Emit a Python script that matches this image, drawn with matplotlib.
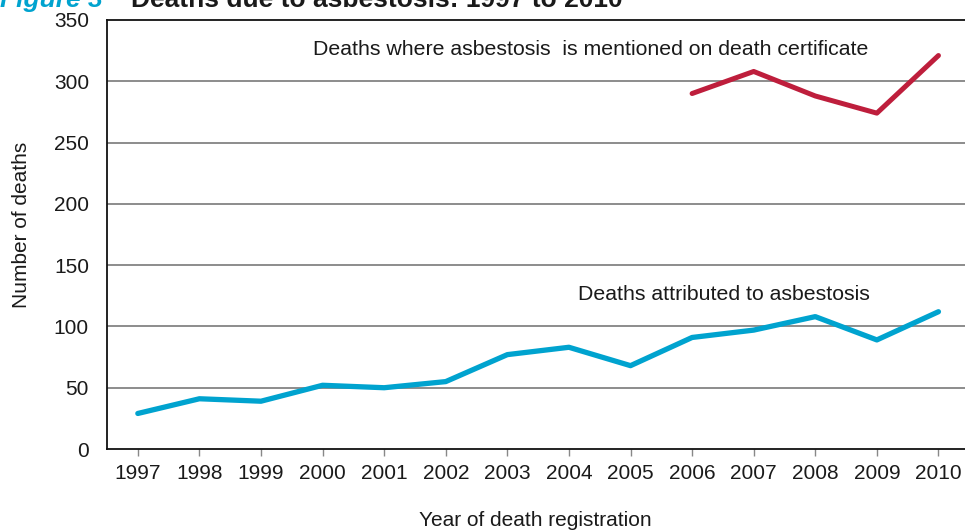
import matplotlib
matplotlib.use("Agg")
import matplotlib.pyplot as plt

years = [1997, 1998, 1999, 2000, 2001, 2002, 2003, 2004, 2005, 2006, 2007, 2008, 2009, 2010]
attributed = [29, 41, 39, 52, 50, 55, 77, 83, 68, 91, 97, 108, 89, 112]

years_mentioned = [2006, 2007, 2008, 2009, 2010]
mentioned = [290, 308, 288, 274, 321]

yticks = [0, 50, 100, 150, 200, 250, 300, 350]

plt.rcParams['font.family'] = ['Liberation Sans', 'DejaVu Sans']

fig = plt.figure(figsize=(9.65, 5.30), dpi=100)
ax = fig.add_axes([0.1109, 0.1528, 0.8935, 0.8095])

for v in yticks[1:-1]:
    ax.axhline(v, color='#6e6e6e', lw=1.1, zorder=1)

ax.plot(years, attributed, color='#00a3cf', lw=3.8, solid_capstyle='round', zorder=3)
ax.plot(years_mentioned, mentioned, color='#be1e3c', lw=3.6, solid_capstyle='round', zorder=3)

ax.set_xlim(1996.5, 2010.5)
ax.set_ylim(0, 350)
ax.set_xticks(years)
ax.set_yticks(yticks)
ax.tick_params(axis='y', length=0, pad=13, labelsize=15, colors='#1a1a1a')
ax.tick_params(axis='x', length=5, width=1, color='#888888', pad=6, labelsize=15,
               labelcolor='#1a1a1a')

for s in ['left', 'bottom', 'top']:
    ax.spines[s].set_color('#111111')
    ax.spines[s].set_linewidth(1.3)
ax.spines['right'].set_visible(False)

# axis titles, placed by hand to match the original layout
fig.text(22 / 965, 1 - 225 / 530, 'Number of deaths', rotation=90, fontsize=15,
         color='#1a1a1a', ha='center', va='center')
fig.text(535 / 965, 1 - 521 / 530, 'Year of death registration', fontsize=15,
         color='#1a1a1a', ha='center', va='center')

ax.text(1999.85, 326, 'Deaths where asbestosis  is mentioned on death certificate',
        fontsize=15.3, color='#1a1a1a', ha='left', va='center')
ax.text(2004.15, 126, 'Deaths attributed to asbestosis',
        fontsize=15.3, color='#1a1a1a', ha='left', va='center')

# title is cut off at the top of the picture
fig.text(0.0, 0.986, 'Figure 3', fontsize=19, fontweight='bold', style='italic',
         color='#00a3cf', ha='left', va='baseline')
fig.text(0.136, 0.986, 'Deaths due to asbestosis: 1997 to 2010', fontsize=19,
         fontweight='bold', color='#1a1a1a', ha='left', va='baseline')

fig.savefig('out.png', dpi=100)
